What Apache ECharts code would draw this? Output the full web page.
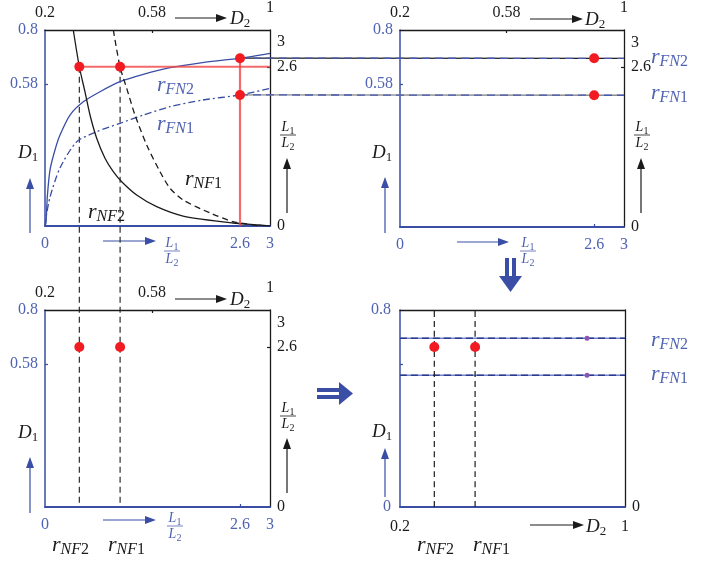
<!DOCTYPE html>
<html>
<head>
<meta charset="utf-8">
<script src="https://cdn.jsdelivr.net/npm/echarts@6/dist/echarts.min.js"></script>
<style>
  html, body { margin: 0; padding: 0; background: #fff; }
  #c { width: 709px; height: 561px; }
</style>
</head>
<body>
<div id="c"></div>
<script>
// rFN curves: D1 against L1/L2
const fnRatio2 = [0, 0.013, 0.031, 0.067, 0.133, 0.2, 0.333, 0.511, 0.733, 1.0, 1.311, 1.667, 2.1, 2.6, 3.0];
const rFN2     = [0, 0.012, 0.12, 0.229, 0.31, 0.371, 0.453, 0.507, 0.548, 0.589, 0.619, 0.646, 0.667, 0.685, 0.705];
const fnRatio1 = [0, 0.013, 0.067, 0.2, 0.423, 0.689, 1.0, 1.311, 1.667, 2.1, 2.6, 3.0];
const rFN1     = [0, 0.033, 0.118, 0.237, 0.344, 0.385, 0.419, 0.453, 0.487, 0.514, 0.535, 0.562];

// rNF curves: L1/L2 against D2
const nfD2_2 = [0.3006, 0.322, 0.342, 0.36, 0.3838, 0.4133, 0.4428, 0.4727, 0.526, 0.597, 0.691, 0.868, 0.964, 1.0];
const rNF2   = [3.2, 2.6, 2.193, 1.812, 1.432, 1.105, 0.887, 0.723, 0.506, 0.315, 0.163, 0.049, 0.016, 0];
const nfD2_1 = [0.443, 0.4667, 0.4905, 0.52, 0.5616, 0.6089, 0.6444, 0.691, 0.787, 0.868, 0.917, 0.964];
const rNF1   = [3.2, 2.6, 2.248, 1.812, 1.322, 0.887, 0.616, 0.424, 0.212, 0.070, 0.033, 0];

// chosen operating ratio and the values read at it
const ratioSel = 2.6;
const fnAtSel  = [0.685, 0.535];   // rFN2, rFN1 at L1/L2 = 2.6
const nfAtSel  = [0.322, 0.467];   // D2 of rNF2, rNF1 at L1/L2 = 2.6
const d1Mark   = 0.65;             // height of the D2 markers in the final panel
const d2Purple = 0.865;            // D2 of the small markers on the rFN lines

// tick labels
const d1Labels    = [0.58, 0.8];
const d1Ticks     = [0.58];
const ratioLabels = [0, 2.6, 3];
const ratioTicks  = [2.6];
const d2Labels    = [0.2, 0.58, 1];
const d2Ticks     = [0.58];
const d1Range = [0, 0.8], ratioRange = [0, 3], ratioRangeRight = [0, 3.2], d2Range = [0.2, 1];

const FONT = 'Liberation Serif';
const BLUE = '#3a4ea5';
const BLUE_TXT = '#5063b2';
const INK = '#1b1b1b';
const RED = '#f01c22';

const chart = echarts.init(document.getElementById('c'), null, { renderer: 'canvas' });

const grids = [
  { left: 45,  top: 30,  width: 225, height: 196 },
  { left: 400, top: 30,  width: 224, height: 197 },
  { left: 45,  top: 310, width: 225, height: 197 },
  { left: 400, top: 310, width: 225, height: 197 }
].map(g => Object.assign({ containLabel: false, outerBoundsMode: 'none' }, g));

function axis(g, pos, range, labels, ticks, lineColor, labelColor, lineWidth, margin) {
  return {
    type: 'value', gridIndex: g, position: pos, min: range[0], max: range[1],
    axisLine: { show: true, onZero: false, lineStyle: { color: lineColor, width: lineWidth } },
    axisTick: { show: ticks.length > 0, inside: true, length: 3, customValues: ticks,
                lineStyle: { color: lineColor, width: 1.2 } },
    axisLabel: { show: labels.length > 0, customValues: labels, margin: margin,
                 color: labelColor, fontFamily: FONT, fontSize: 16,
                 // the end label of the D2 axis sits a little higher, as an axis end mark
                 formatter: v => (pos === 'top' && v === d2Range[1]) ? '{hi|' + v + '}' : String(v),
                 rich: { hi: { fontFamily: FONT, fontSize: 16, color: labelColor, padding: [0, 0, 5, 0] } } },
    splitLine: { show: false }
  };
}

const xAxes = [], yAxes = [];
for (let g = 0; g < 3; g++) {
  xAxes.push(axis(g, 'bottom', ratioRange, ratioLabels, ratioTicks, BLUE, BLUE_TXT, 2, 10));
  xAxes.push(axis(g, 'top', d2Range, d2Labels, d2Ticks, INK, INK, 1.3, 9));
  yAxes.push(axis(g, 'left', d1Range, d1Labels, d1Ticks, BLUE, BLUE_TXT, 1.5, 7));
  yAxes.push(axis(g, 'right', ratioRangeRight, ratioLabels, ratioTicks, INK, INK, 1.3, 7));
}
xAxes.push(axis(3, 'bottom', d2Range, [0.2, 1], [], BLUE, INK, 2, 12));
xAxes.push(axis(3, 'top', d2Range, [], [], INK, INK, 1.3, 8));
yAxes.push(axis(3, 'left', d1Range, [0, 0.8], d1Ticks, BLUE, BLUE_TXT, 1.5, 9));
yAxes.push(axis(3, 'right', ratioRangeRight, [0], [], INK, INK, 1.3, 7));

const zip = (xs, ys) => xs.map((x, i) => [x, ys[i]]);

function line(name, xi, yi, data, color, width, type, z) {
  return { name, type: 'line', xAxisIndex: xi, yAxisIndex: yi, data, showSymbol: false,
           symbol: 'none', smooth: 0.25, z: z || 3, silent: true,
           lineStyle: { color, width, type: type || 'solid' } };
}
function dots(xi, yi, data, color, size) {
  return { type: 'scatter', xAxisIndex: xi, yAxisIndex: yi, data, symbolSize: size, z: 10,
           silent: true, itemStyle: { color, opacity: 1 } };
}

const series = [
  // top-left: the four design curves
  line('rFN2', 0, 0, zip(fnRatio2, rFN2), BLUE, 1.3),
  line('rFN1', 0, 0, zip(fnRatio1, rFN1), BLUE, 1.3, [7, 3, 2, 3]),
  line('rNF2', 1, 1, zip(nfD2_2, rNF2), INK, 1.3),
  line('rNF1', 1, 1, zip(nfD2_1, rNF1), INK, 1.3, [6, 4]),
  // read-off lines at the chosen ratio
  line('sel-h', 1, 1, [[nfAtSel[0], ratioSel], [d2Range[1], ratioSel]], 'rgba(240,70,70,0.8)', 2.2, 'solid', 5),
  line('sel-v', 0, 0, [[ratioSel, fnAtSel[0]], [ratioSel, 0]], 'rgba(240,70,70,0.8)', 2.2, 'solid', 5),
  dots(1, 1, nfAtSel.map(d => [d, ratioSel]), RED, 10),
  dots(0, 0, fnAtSel.map(v => [ratioSel, v]), RED, 10),
  // top-right
  dots(2, 2, fnAtSel.map(v => [ratioSel, v]), RED, 10),
  // bottom-left
  dots(5, 5, nfAtSel.map(d => [d, ratioSel]), RED, 10),
  // bottom-right: combined result
  line('fn2-base', 6, 6, [[d2Range[0], fnAtSel[0]], [d2Range[1], fnAtSel[0]]], '#7585c8', 1.6),
  line('fn2-dash', 6, 6, [[d2Range[0], fnAtSel[0]], [d2Range[1], fnAtSel[0]]], '#2b3a8e', 1.4, [7, 4], 4),
  line('fn1-base', 6, 6, [[d2Range[0], fnAtSel[1]], [d2Range[1], fnAtSel[1]]], '#7585c8', 1.6),
  line('fn1-dash', 6, 6, [[d2Range[0], fnAtSel[1]], [d2Range[1], fnAtSel[1]]], '#2b3a8e', 1.4, [7, 4], 4),
  line('nf2-v', 6, 6, [[nfAtSel[0], d1Range[0]], [nfAtSel[0], d1Range[1]]], INK, 1.2, [6, 4], 4),
  line('nf1-v', 6, 6, [[nfAtSel[1], d1Range[0]], [nfAtSel[1], d1Range[1]]], INK, 1.2, [6, 4], 4),
  dots(6, 6, nfAtSel.map(d => [d, d1Mark]), RED, 10),
  dots(6, 6, fnAtSel.map(v => [d2Purple, v]), '#8a55b5', 5)
];

chart.setOption({
  animation: false,
  backgroundColor: '#fff',
  grid: grids,
  xAxis: xAxes,
  yAxis: yAxes,
  series: series
});

// ---- annotation helpers ----
function arrow(x1, y1, x2, y2, color) {
  const dx = x2 - x1, dy = y2 - y1, len = Math.hypot(dx, dy);
  const ux = dx / len, uy = dy / len, hl = 11, hw = 4;
  const bx = x2 - ux * hl, by = y2 - uy * hl;
  return [
    { type: 'line', shape: { x1, y1, x2: bx, y2: by }, style: { stroke: color, lineWidth: 1.2 } },
    { type: 'polygon', shape: { points: [[x2, y2], [bx - uy * hw, by + ux * hw], [bx + uy * hw, by - ux * hw]] },
      style: { fill: color } }
  ];
}
function sym(x, y, main, sub, color, size, subSize, align) {
  const m = { fontFamily: FONT, fontStyle: 'italic', fontSize: size, lineHeight: size + 4, fill: color };
  const s = { fontFamily: FONT, fontStyle: 'italic', fontSize: subSize, lineHeight: subSize, verticalAlign: 'bottom', fill: color };
  const d = Object.assign({}, s, { fontStyle: 'normal' });
  const letters = sub.replace(/[0-9]/g, ''), digits = sub.replace(/[^0-9]/g, '');
  let text = '{m|' + main + '}';
  if (letters) text += '{s|' + letters + '}';
  if (digits) text += '{d|' + digits + '}';
  return { type: 'text', x, y, z: 20,
           style: { text, align: align || 'left', verticalAlign: 'middle', rich: { m, s, d } } };
}
function frac(cx, cy, color) {
  return [
    sym(cx, cy - 8, 'L', '1', color, 14, 10, 'center'),
    { type: 'line', shape: { x1: cx - 8, y1: cy, x2: cx + 8, y2: cy }, style: { stroke: color, lineWidth: 0.8 } },
    sym(cx, cy + 8, 'L', '2', color, 14, 10, 'center')
  ];
}

const deco = [];
// top-left panel
deco.push(...arrow(175, 18, 227, 18, INK), sym(230, 19, 'D', '2', INK, 19, 13));
deco.push(sym(18, 153, 'D', '1', INK, 19, 13), ...arrow(30, 233, 30, 178, BLUE));
deco.push(...frac(288, 135, INK), ...arrow(287, 213, 287, 158, INK));
deco.push(...arrow(103, 241, 156, 241, BLUE), ...frac(172, 251, BLUE_TXT));
deco.push(sym(157, 85, 'r', 'FN2', BLUE_TXT, 22, 16), sym(157, 124, 'r', 'FN1', BLUE_TXT, 22, 16));
deco.push(sym(185, 179, 'r', 'NF1', INK, 22, 16), sym(88, 212, 'r', 'NF2', INK, 22, 16));
// top-right panel
deco.push(...arrow(530, 19, 583, 19, INK), sym(585, 20, 'D', '2', INK, 19, 13));
deco.push(sym(372, 153, 'D', '1', INK, 19, 13), ...arrow(385, 233, 385, 177, BLUE));
deco.push(...frac(642, 135, INK), ...arrow(641, 213, 641, 158, INK));
deco.push(...arrow(457, 242, 509, 242, BLUE), ...frac(528, 251, BLUE_TXT));
deco.push(sym(651, 57, 'r', 'FN2', BLUE_TXT, 22, 16), sym(651, 93, 'r', 'FN1', BLUE_TXT, 22, 16));
// bottom-left panel
deco.push(...arrow(175, 299, 227, 299, INK), sym(230, 300, 'D', '2', INK, 19, 13));
deco.push(sym(18, 433, 'D', '1', INK, 19, 13), ...arrow(30, 513, 30, 457, BLUE));
deco.push(...frac(288, 416, INK), ...arrow(287, 493, 287, 438, INK));
deco.push(...arrow(103, 520, 156, 520, BLUE), ...frac(175, 526, BLUE_TXT));
deco.push(sym(52, 545, 'r', 'NF2', INK, 22, 16), sym(108, 545, 'r', 'NF1', INK, 22, 16));
// bottom-right panel
deco.push(sym(372, 432, 'D', '1', INK, 19, 13), ...arrow(385, 497, 385, 448, BLUE));
deco.push(...arrow(530, 525, 584, 525, INK), sym(586, 527, 'D', '2', INK, 19, 13));
deco.push(sym(651, 340, 'r', 'FN2', BLUE_TXT, 22, 16), sym(651, 374, 'r', 'FN1', BLUE_TXT, 22, 16));
deco.push(sym(417, 545, 'r', 'NF2', INK, 22, 16), sym(473, 545, 'r', 'NF1', INK, 22, 16));
// flow arrows between panels
deco.push(
  { type: 'rect', shape: { x: 505, y: 258, width: 4, height: 20 }, style: { fill: BLUE } },
  { type: 'rect', shape: { x: 512, y: 258, width: 4, height: 20 }, style: { fill: BLUE } },
  { type: 'polygon', shape: { points: [[499, 276], [522, 276], [510.5, 292]] }, style: { fill: BLUE } },
  { type: 'rect', shape: { x: 317, y: 388, width: 24, height: 4 }, style: { fill: BLUE } },
  { type: 'rect', shape: { x: 317, y: 395, width: 24, height: 4 }, style: { fill: BLUE } },
  { type: 'polygon', shape: { points: [[339, 382], [339, 405], [353, 393.5]] }, style: { fill: BLUE } }
);

// projection lines between panels, placed through each panel's own axes
const px = (xi, yi, v) => chart.convertToPixel({ xAxisIndex: xi, yAxisIndex: yi }, v);
const links = [];
nfAtSel.forEach(d => {
  const a = px(1, 1, [d, ratioSel]), b = px(5, 5, [d, 0]);
  links.push({ type: 'line', z: 1, shape: { x1: a[0], y1: a[1], x2: b[0], y2: b[1] - 3 },
               style: { stroke: INK, lineWidth: 1.1, lineDash: [6, 4] } });
});
const linkColors = [['#1e1e1e', '#4759b0'], ['#8c8c8c', '#4759b0']];
fnAtSel.forEach((v, i) => {
  const a = px(0, 0, [ratioSel, v]), b = px(2, 2, [ratioRange[1], v]);
  links.push({ type: 'line', z: 1, shape: { x1: a[0], y1: a[1], x2: b[0], y2: b[1] },
               style: { stroke: linkColors[i][0], lineWidth: 1.3 } });
  links.push({ type: 'line', z: 1, shape: { x1: a[0], y1: a[1], x2: b[0], y2: b[1] },
               style: { stroke: linkColors[i][1], lineWidth: 1.3, lineDash: [8, 5] } });
});

chart.setOption({ graphic: { elements: deco.concat(links) } });
</script>
</body>
</html>
